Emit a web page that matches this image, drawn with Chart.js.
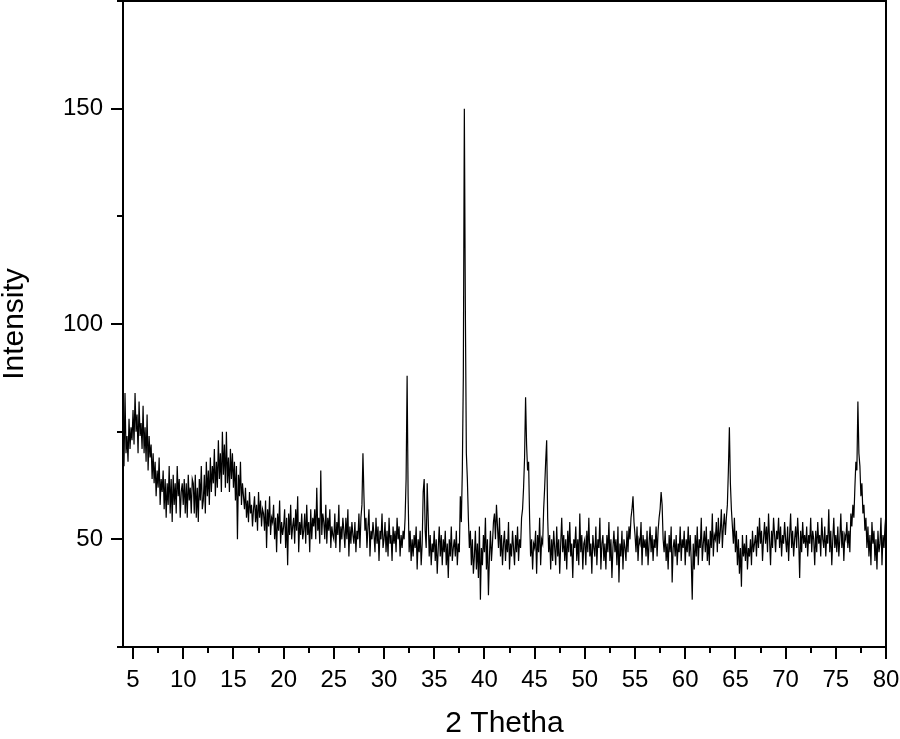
<!DOCTYPE html>
<html>
<head>
<meta charset="utf-8">
<script src="https://cdn.jsdelivr.net/npm/chart.js@4.4.1/dist/chart.umd.min.js"></script>
<style>
  html, body { margin: 0; padding: 0; background: #fff; }
</style>
</head>
<body>
<canvas id="chart" width="900" height="739"></canvas>
<script>
// XRD scan at 0.1 degree steps
const thetaStart = 4;
const thetaStep = 0.1;

// one row per degree (n.0 ... n.9), starting at 4
const intensityRows = [
  [72, 67, 84, 70, 74, 68, 78, 71, 76, 73], // 4
  [80, 72, 84, 75, 79, 70, 82, 74, 77, 71], // 5
  [81, 70, 76, 68, 79, 66, 74, 69, 72, 64], // 6
  [70, 63, 68, 60, 66, 62, 69, 58, 64, 61], // 7
  [66, 57, 64, 55, 63, 58, 67, 56, 64, 54], // 8
  [65, 58, 63, 56, 67, 60, 64, 55, 61, 63], // 9
  [58, 64, 56, 63, 55, 65, 59, 62, 56, 64], // 10
  [63, 56, 65, 55, 62, 54, 64, 59, 67, 57], // 11
  [59, 65, 56, 68, 60, 66, 58, 69, 61, 67], // 12
  [63, 71, 60, 68, 62, 73, 64, 70, 61, 75], // 13
  [65, 72, 62, 75, 63, 69, 61, 71, 64, 70], // 14
  [62, 68, 59, 67, 50, 65, 60, 68, 58, 63], // 15
  [60, 57, 62, 55, 59, 54, 61, 56, 58, 53], // 16
  [57, 60, 54, 58, 52, 61, 55, 59, 53, 57], // 17
  [56, 52, 59, 48, 57, 53, 60, 51, 55, 54], // 18
  [58, 50, 55, 47, 56, 52, 59, 49, 54, 51], // 19
  [53, 57, 48, 55, 44, 56, 51, 58, 50, 53], // 20
  [55, 49, 57, 52, 60, 47, 54, 51, 56, 50], // 21
  [52, 56, 49, 58, 51, 54, 47, 57, 50, 55], // 22
  [53, 57, 50, 62, 52, 55, 49, 66, 51, 56], // 23
  [54, 50, 58, 49, 55, 52, 57, 48, 53, 51], // 24
  [50, 56, 48, 54, 51, 58, 47, 53, 50, 55], // 25
  [52, 48, 55, 50, 57, 46, 53, 49, 54, 51], // 26
  [49, 54, 47, 52, 50, 56, 48, 55, 58, 70], // 27
  [60, 52, 55, 48, 53, 57, 46, 52, 50, 54], // 28
  [51, 47, 55, 49, 53, 45, 52, 50, 56, 48], // 29
  [50, 54, 47, 52, 46, 55, 49, 51, 45, 53], // 30
  [49, 52, 47, 55, 50, 53, 46, 51, 48, 52], // 31
  [50, 55, 64, 88, 60, 47, 52, 45, 50, 46], // 32
  [51, 48, 53, 43, 50, 47, 52, 44, 49, 61], // 33
  [64, 52, 48, 63, 55, 46, 51, 44, 49, 47], // 34
  [52, 45, 50, 42, 48, 53, 46, 51, 44, 50], // 35
  [47, 52, 44, 49, 41, 50, 46, 53, 45, 48], // 36
  [50, 46, 52, 44, 49, 47, 60, 54, 66, 88], // 37
  [150, 104, 70, 64, 55, 48, 52, 44, 50, 42], // 38
  [46, 52, 43, 49, 41, 53, 36, 48, 44, 51], // 39
  [47, 55, 43, 50, 37, 46, 52, 45, 49, 54], // 40
  [56, 50, 58, 53, 48, 55, 46, 51, 44, 49], // 41
  [52, 45, 50, 47, 54, 43, 49, 46, 52, 48], // 42
  [44, 51, 47, 53, 45, 50, 48, 55, 57, 62], // 43
  [69, 83, 72, 66, 68, 55, 46, 50, 43, 49], // 44
  [48, 52, 42, 51, 47, 55, 44, 50, 49, 57], // 45
  [62, 68, 73, 55, 47, 51, 43, 50, 45, 52], // 46
  [48, 44, 53, 46, 50, 42, 49, 55, 47, 51], // 47
  [45, 50, 43, 52, 47, 54, 46, 49, 41, 50], // 48
  [48, 53, 45, 50, 44, 56, 47, 51, 43, 49], // 49
  [50, 44, 52, 47, 55, 46, 49, 42, 51, 48], // 50
  [46, 53, 44, 50, 48, 55, 43, 49, 51, 45], // 51
  [49, 43, 51, 47, 54, 45, 50, 41, 48, 52], // 52
  [47, 50, 44, 53, 40, 49, 46, 52, 43, 50], // 53
  [48, 45, 52, 47, 53, 50, 55, 57, 60, 54], // 54
  [51, 47, 53, 45, 50, 49, 54, 44, 51, 48], // 55
  [50, 46, 52, 44, 49, 53, 47, 51, 45, 50], // 56
  [48, 53, 46, 52, 55, 57, 61, 58, 50, 47], // 57
  [52, 45, 49, 43, 51, 47, 53, 40, 48, 50], // 58
  [46, 51, 44, 49, 47, 53, 45, 50, 48, 52], // 59
  [44, 50, 47, 53, 46, 51, 45, 36, 49, 43], // 60
  [51, 46, 53, 44, 50, 48, 55, 45, 49, 52], // 61
  [47, 53, 45, 50, 44, 52, 48, 56, 46, 51], // 62
  [50, 54, 47, 55, 49, 52, 57, 48, 53, 56], // 63
  [51, 55, 58, 66, 76, 63, 57, 53, 49, 55], // 64
  [47, 52, 44, 50, 42, 48, 39, 51, 46, 49], // 65
  [45, 51, 43, 48, 46, 50, 44, 52, 47, 49], // 66
  [51, 46, 53, 48, 55, 49, 52, 45, 50, 54], // 67
  [49, 53, 47, 56, 50, 44, 52, 48, 55, 51], // 68
  [47, 52, 50, 55, 48, 53, 46, 51, 49, 54], // 69
  [50, 47, 53, 45, 51, 56, 48, 52, 46, 50], // 70
  [53, 48, 55, 50, 41, 52, 47, 54, 49, 51], // 71
  [48, 53, 46, 51, 49, 55, 47, 52, 50, 44], // 72
  [52, 47, 54, 49, 51, 46, 55, 50, 48, 53], // 73
  [46, 51, 49, 57, 47, 52, 44, 50, 55, 48], // 74
  [51, 47, 53, 46, 50, 56, 48, 52, 45, 51], // 75
  [50, 54, 48, 52, 47, 56, 53, 58, 55, 62], // 76
  [68, 66, 82, 70, 67, 60, 63, 56, 58, 52], // 77
  [55, 48, 53, 46, 51, 44, 54, 49, 52, 45], // 78
  [50, 43, 52, 47, 49, 55, 44, 51, 48, 53], // 79
];
const lastIntensity = 56; // 80.0

const xTickLabels = [5, 10, 15, 20, 25, 30, 35, 40, 45, 50, 55, 60, 65, 70, 75, 80];
const yTickLabels = [50, 100, 150];

const intensity = intensityRows.flat().concat([lastIntensity]);
const twoTheta = intensity.map((_, i) => +(thetaStart + i * thetaStep).toFixed(1));
const points = twoTheta.map((t, i) => ({ x: t, y: intensity[i] }));

const FONT = "'Liberation Sans', Arial, sans-serif";

// frame box + outward major/minor ticks (Origin style)
const frameTicks = {
  id: "frameTicks",
  afterDraw(chart) {
    const { ctx, chartArea: a, scales } = chart;
    const x = scales.x, y = scales.y;
    ctx.save();
    ctx.strokeStyle = "#000";
    ctx.lineWidth = 2;
    ctx.strokeRect(a.left, a.top, a.right - a.left, a.bottom - a.top);
    ctx.beginPath();
    x.ticks.forEach((t) => {
      const px = Math.round(x.getPixelForValue(t.value));
      const len = xTickLabels.includes(t.value) ? 12 : 6;
      ctx.moveTo(px, a.bottom);
      ctx.lineTo(px, a.bottom + len);
    });
    y.ticks.forEach((t) => {
      const py = Math.round(y.getPixelForValue(t.value));
      const len = yTickLabels.includes(t.value) ? 12 : 6;
      ctx.moveTo(a.left, py);
      ctx.lineTo(a.left - len, py);
    });
    ctx.stroke();
    ctx.restore();
  },
};

new Chart(document.getElementById("chart"), {
  type: "line",
  data: {
    datasets: [
      {
        data: points,
        borderColor: "#000",
        borderWidth: 1.2,
        pointRadius: 0,
        tension: 0,
      },
    ],
  },
  plugins: [frameTicks],
  options: {
    responsive: false,
    animation: false,
    devicePixelRatio: 1,
    parsing: false,
    layout: { padding: { top: 1, right: 14, left: 0, bottom: 0 } },
    plugins: { legend: { display: false }, tooltip: { enabled: false } },
    scales: {
      x: {
        type: "linear",
        min: 4,
        max: 80,
        grid: { display: false },
        border: { display: false },
        ticks: {
          stepSize: 2.5,
          includeBounds: false,
          autoSkip: false,
          maxRotation: 0,
          padding: 11,
          color: "#000",
          font: { family: FONT, size: 24 },
          callback: (v) => (xTickLabels.includes(v) ? String(v) : ""),
        },
        title: {
          display: true,
          text: "2 Thetha",
          color: "#000",
          font: { family: FONT, size: 30 },
          padding: { top: 0, bottom: -3 },
        },
        afterFit: (scale) => {
          scale.height = 92;
          scale.paddingLeft = 0;
          scale.paddingRight = 0;
        },
      },
      y: {
        min: 25,
        max: 175,
        grid: { display: false },
        border: { display: false },
        ticks: {
          stepSize: 25,
          autoSkip: false,
          padding: 12,
          color: "#000",
          font: { family: FONT, size: 24 },
          callback: (v) => (yTickLabels.includes(v) ? String(v) : ""),
        },
        title: {
          display: true,
          text: "Intensity",
          color: "#000",
          font: { family: FONT, size: 30, lineHeight: 1 },
          padding: { top: 0, bottom: 0 },
        },
        afterFit: (scale) => {
          scale.width = 123;
          scale.paddingTop = 0;
          scale.paddingBottom = 0;
        },
      },
    },
  },
});
</script>
</body>
</html>
